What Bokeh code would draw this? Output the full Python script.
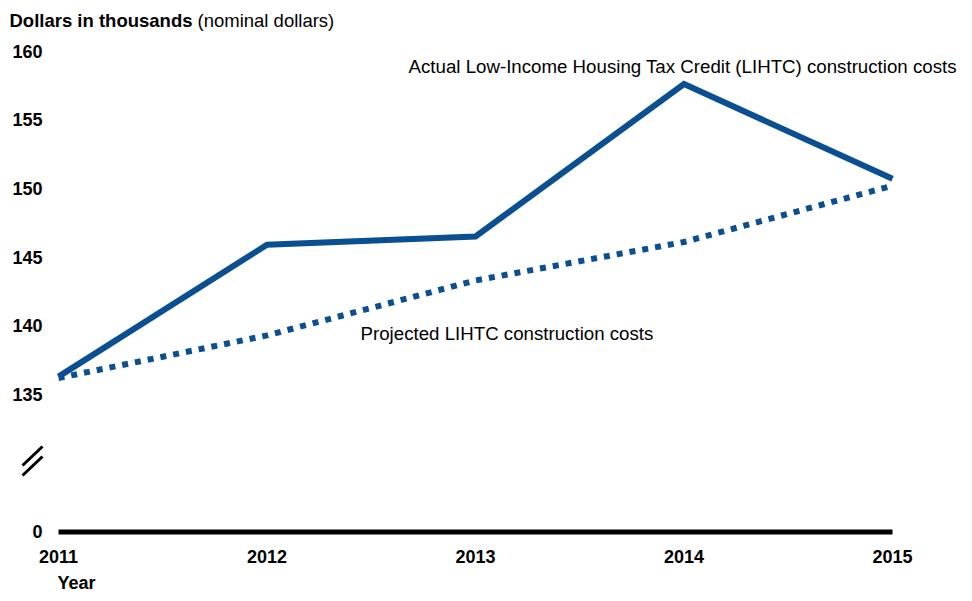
from bokeh.plotting import figure
from bokeh.models import Range1d, FixedTicker, Label, Arrow
from bokeh.embed import file_html
from bokeh.resources import INLINE

# ---- data ----
years = [2011, 2012, 2013, 2014, 2015]
actual = [136.3, 145.9, 146.5, 157.6, 150.7]
projected = [136.2, 139.3, 143.3, 146.1, 150.2]
y_ticks = [125, 135, 140, 145, 150, 155, 160]
y_tick_labels = {125: "0"}
base_value = 125  # axis break: this position stands for 0

title_bold = "Dollars in thousands"
title_normal = "(nominal dollars)"
actual_label = "Actual Low-Income Housing Tax Credit (LIHTC) construction costs"
projected_label = "Projected LIHTC construction costs"
x_title = "Year"

BLUE = "#0b4f93"
FONT = "Liberation Sans"

# ---- layout helpers (canvas pixel -> data) ----
W, H = 964, 593
xs = 208.5                                 # px per year
ys = 13.74                                 # px per unit
x0_px, y0_px = 58, 394                     # positions of 2011 and 135


def fx(px):
    return years[0] + (px - x0_px) / xs


def fy(py):
    return 135 + (y0_px - py) / ys


p = figure(width=W, height=H, output_backend="svg", toolbar_location=None,
           x_range=Range1d(fx(0), fx(W)), y_range=Range1d(fy(H), fy(0)),
           min_border_left=0, min_border_right=0, min_border_top=0, min_border_bottom=0)
p.title.visible = False
p.outline_line_color = None
p.grid.visible = False
p.background_fill_color = "white"
p.border_fill_color = "white"

# axes (drawn at fixed positions inside the frame)
p.xaxis.ticker = FixedTicker(ticks=years)
p.yaxis.ticker = FixedTicker(ticks=y_ticks)
p.yaxis.major_label_overrides = y_tick_labels
p.yaxis.fixed_location = fx(48)
p.xaxis.fixed_location = fy(540)
for ax in (p.xaxis, p.yaxis):
    ax.axis_line_color = None
    ax.major_tick_line_color = None
    ax.minor_tick_line_color = None
    ax.major_tick_out = 0
    ax.major_tick_in = 0
    ax.major_label_text_font = FONT
    ax.major_label_text_font_size = "18px"
    ax.major_label_text_font_style = "bold"
    ax.major_label_text_color = "black"
p.yaxis.major_label_standoff = 6
p.xaxis.major_label_standoff = 9

# baseline
p.line(x=[years[0], years[-1]], y=[base_value, base_value], line_color="black", line_width=5)

# series
p.line(x=years, y=projected, line_color=BLUE, line_width=6, line_dash="6 7", line_cap="butt")
p.line(x=years, y=actual, line_color=BLUE, line_width=6, line_join="miter")

# axis break marks
for off in (0, 10):
    p.add_layout(Arrow(end=None, x_start=fx(22), y_start=fy(475 - off), x_end=fx(42), y_end=fy(456 - off),
                       line_color="black", line_width=3))


# texts
def lab(text, px, py, bold=False, size="18.5px", baseline="middle"):
    p.add_layout(Label(x=fx(px), y=fy(py), text=text, text_font=FONT, text_font_size=size,
                       text_font_style="bold" if bold else "normal", text_color="black",
                       text_align="left", text_baseline=baseline))


lab(title_bold, 9, 20, bold=True)
lab(title_normal, 197, 20)
lab(actual_label, 408, 66, size="18.7px")
lab(projected_label, 360, 333, size="18.7px")
lab(x_title, 57, 592, bold=True, size="18px", baseline="bottom")

open("out.html", "w").write(file_html(p, INLINE))
